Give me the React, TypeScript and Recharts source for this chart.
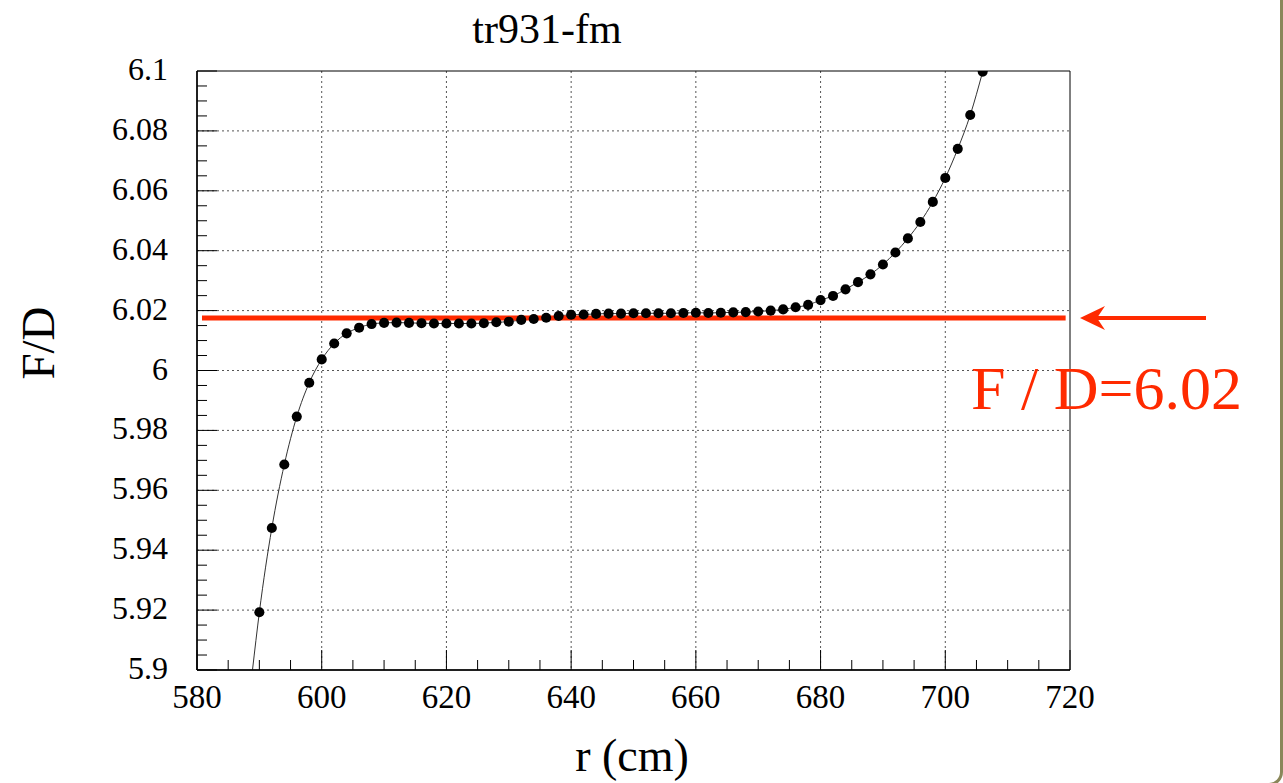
import React from "react"
import { ComposedChart, Line, Scatter, XAxis, YAxis, ZAxis, CartesianGrid, ReferenceArea } from "recharts"

// r (cm) of each measured point
const radius = [
  590, 592, 594, 596, 598, 600, 602, 604, 606, 608,
  610, 612, 614, 616, 618, 620, 622, 624, 626, 628,
  630, 632, 634, 636, 638, 640, 642, 644, 646, 648,
  650, 652, 654, 656, 658, 660, 662, 664, 666, 668,
  670, 672, 674, 676, 678, 680, 682, 684, 686, 688,
  690, 692, 694, 696, 698, 700, 702, 704, 706,
]

// F/D at each r
const focalRatio = [
  5.9193, 5.9474, 5.9686, 5.9846, 5.9959, 6.0037, 6.009, 6.0124, 6.0143, 6.0155,
  6.0159, 6.016, 6.0159, 6.0158, 6.0157, 6.0157, 6.0157, 6.0157, 6.0158, 6.0161,
  6.0163, 6.0169, 6.0172, 6.0176, 6.0182, 6.0186, 6.0187, 6.0189, 6.019, 6.019,
  6.0191, 6.0191, 6.0191, 6.0191, 6.0192, 6.0193, 6.0192, 6.0193, 6.0194, 6.0195,
  6.0197, 6.02, 6.0204, 6.0211, 6.0219, 6.0235, 6.0249, 6.0271, 6.0295, 6.0321,
  6.0354, 6.0394, 6.0441, 6.0496, 6.0563, 6.0643, 6.074, 6.0853, 6.0998,
]

// where the smooth curve leaves the bottom of the frame
const curveStartR = 588.9
const curveStartValue = 5.9

// the red F/D level line
const levelR = [580.8, 719.3]
const levelValue = 6.0175

const xMajorTicks = [580, 600, 620, 640, 660, 680, 700, 720]
const xTickLabels = ["580", "600", "620", "640", "660", "680", "700", "720"]
const yMajorTicks = [5.9, 5.92, 5.94, 5.96, 5.98, 6.0, 6.02, 6.04, 6.06, 6.08, 6.1]
const yTickLabels = ["5.9", "5.92", "5.94", "5.96", "5.98", "6", "6.02", "6.04", "6.06", "6.08", "6.1"]

// minor ticks: 4 divisions between major ticks
const subdivide = (major: number[]) => {
  const out: number[] = []
  for (let i = 0; i < major.length - 1; i++) {
    const step = (major[i + 1] - major[i]) / 4
    for (let k = 0; k < 4; k++) out.push(+(major[i] + k * step).toFixed(4))
  }
  out.push(major[major.length - 1])
  return out
}
const xAllTicks = subdivide(xMajorTicks)
const yAllTicks = subdivide(yMajorTicks)

const pointData = radius.map((r, i) => ({ r, v: focalRatio[i] }))
const curveData = [{ r: curveStartR, v: curveStartValue }, ...pointData]
const levelData = levelR.map((r) => ({ r, v: levelValue }))

const SERIF = "'Liberation Serif', 'DejaVu Serif', serif"
const RED = "#ff2a00"

const majorIndex = (ticks: number[], v: number) => ticks.findIndex((t) => Math.abs(t - v) < 1e-6)

const XTick = (props: any) => {
  const { x, y, payload } = props
  const idx = majorIndex(xMajorTicks, payload.value)
  const len = idx >= 0 ? 20 : 10
  return (
    <g>
      <line x1={x} x2={x} y1={y} y2={y - len} stroke="#000" strokeWidth={1} />
      {idx >= 0 && (
        <text x={x} y={y + 38} textAnchor="middle" fontFamily={SERIF} fontSize={33} fill="#000">
          {xTickLabels[idx]}
        </text>
      )}
    </g>
  )
}

const YTick = (props: any) => {
  const { x, y, payload } = props
  const idx = majorIndex(yMajorTicks, payload.value)
  const len = idx >= 0 ? 20 : 10
  return (
    <g>
      <line x1={x} x2={x + len} y1={y} y2={y} stroke="#000" strokeWidth={1} />
      {idx >= 0 && (
        <text x={x - 29} y={y + 9} textAnchor="end" fontFamily={SERIF} fontSize={32} fill="#000">
          {yTickLabels[idx]}
        </text>
      )}
    </g>
  )
}

export default function App() {
  return (
    <div style={{ position: "absolute", left: 0, top: 0, width: 1283, height: 783, background: "#fff", overflow: "hidden" }}>
      <ComposedChart width={1283} height={783} margin={{ top: 71, right: 213, left: 157, bottom: 73 }}>
        <CartesianGrid
          horizontalValues={yMajorTicks.slice(1, -1)}
          verticalValues={xMajorTicks.slice(1, -1)}
          stroke="#555"
          strokeDasharray="2 3"
        />
        <XAxis
          dataKey="r"
          type="number"
          domain={[580, 720]}
          ticks={xAllTicks}
          interval={0}
          height={40}
          tickSize={0}
          tickMargin={0}
          tickLine={false}
          axisLine={{ stroke: "#000", strokeWidth: 1.5 }}
          tick={<XTick />}
          allowDataOverflow
        />
        <YAxis
          dataKey="v"
          type="number"
          domain={[5.9, 6.1]}
          ticks={yAllTicks}
          interval={0}
          width={40}
          tickSize={0}
          tickMargin={0}
          tickLine={false}
          axisLine={{ stroke: "#000", strokeWidth: 1.5 }}
          tick={<YTick />}
          allowDataOverflow
        />
        <ZAxis range={[80, 80]} />
        <ReferenceArea x1={580} x2={720} y1={5.9} y2={6.1} fill="none" stroke="#000" strokeWidth={1} />
        <Line
          data={curveData}
          dataKey="v"
          type="monotone"
          stroke="#333"
          strokeWidth={1}
          dot={false}
          activeDot={false}
          isAnimationActive={false}
        />
        <Scatter data={pointData} dataKey="v" fill="#000" isAnimationActive={false} />
        <Line
          data={levelData}
          dataKey="v"
          type="linear"
          stroke={RED}
          strokeWidth={5}
          dot={false}
          activeDot={false}
          isAnimationActive={false}
        />
      </ComposedChart>
      <svg width={1283} height={783} style={{ position: "absolute", left: 0, top: 0, pointerEvents: "none" }}>
        <text x={547} y={43} textAnchor="middle" fontFamily={SERIF} fontSize={42} fill="#000">
          tr931-fm
        </text>
        <text x={632} y={771} textAnchor="middle" fontFamily={SERIF} fontSize={46} fill="#000">
          r (cm)
        </text>
        <text
          x={54}
          y={343}
          textAnchor="middle"
          transform="rotate(-90 54 343)"
          fontFamily={SERIF}
          fontSize={47}
          fill="#000"
        >
          F/D
        </text>
        <line x1={1096} x2={1206} y1={318} y2={318} stroke={RED} strokeWidth={4} />
        <polygon points="1080,318 1105,306 1097,318 1105,330" fill={RED} />
        <text x={971} y={409} fontFamily={SERIF} fontSize={62} fill={RED}>
          F / D=6.02
        </text>
      </svg>
      <div
        style={{
          position: "absolute",
          left: -30,
          top: -30,
          width: 1313,
          height: 816,
          boxSizing: "border-box",
          border: "3px solid #8a875a",
          borderRadius: 14,
          pointerEvents: "none",
        }}
      />
    </div>
  )
}
